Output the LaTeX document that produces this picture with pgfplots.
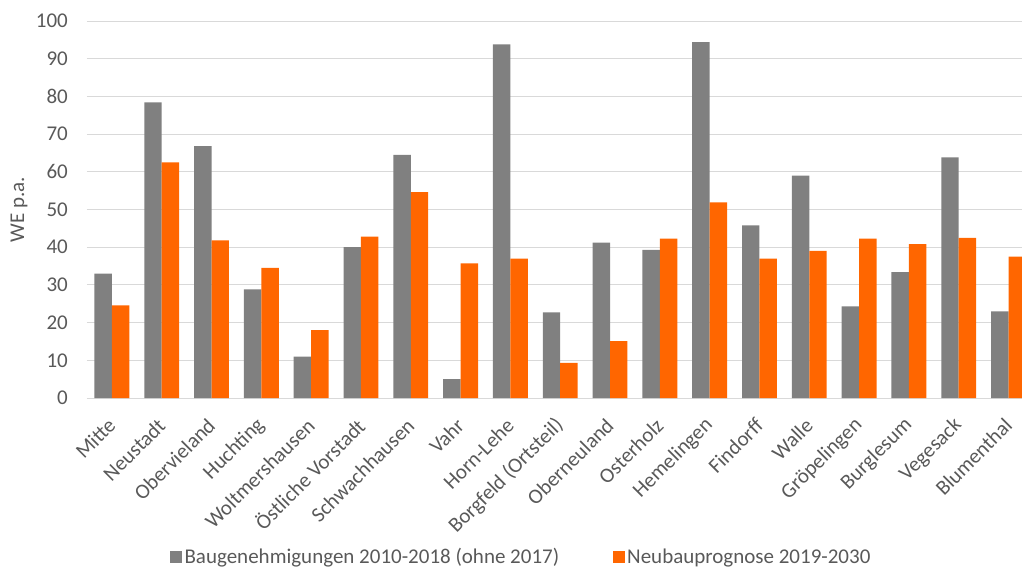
\documentclass[border=0pt]{standalone}
\usepackage{pgfplots}
\pgfplotsset{compat=1.18}
\usepackage{fontspec}
\setmainfont{Carlito}
\definecolor{bgray}{HTML}{808080}
\definecolor{borange}{HTML}{FF6600}
\definecolor{gridc}{HTML}{D9D9D9}
\definecolor{txt}{HTML}{595959}
\newcommand{\cf}{\fontsize{21}{25}\selectfont}
\begin{document}
\begin{tikzpicture}
\begin{axis}[
  at={(0,0)}, anchor=south west,
  scale only axis, width=935pt, height=377pt,
  xmin=-0.5, xmax=18.27, ymin=0, ymax=100,
  enlargelimits=false,
  ybar=0pt, bar width=0.35,
  xtick={0,...,18},
  xticklabels={Mitte,Neustadt,Obervieland,Huchting,Woltmershausen,Östliche Vorstadt,Schwachhausen,Vahr,Horn-Lehe,Borgfeld (Ortsteil),Oberneuland,Osterholz,Hemelingen,Findorff,Walle,Gröpelingen,Burglesum,Vegesack,Blumenthal},
  ytick={0,10,...,100},
  ymajorgrids, grid style={gridc, line width=0.9pt},
  axis line style={draw=none},
  major tick length=0pt,
  tick style={draw=none},
  /pgf/number format/assume math mode=true,
  tick label style={font=\cf, text=txt},
  yticklabel style={anchor=east, inner sep=0pt, xshift=-19pt},
  xticklabel style={rotate=45, anchor=east, inner sep=0pt},
  xticklabel shift=24pt,
  ylabel={WE p.a.},
  every axis y label/.style={at={(axis description cs:-0.0727,0.5)}, rotate=90, anchor=center, font=\cf, text=txt},
  legend style={at={(axis description cs:0.4647,-0.4218)}, anchor=center, draw=none, fill=none,
    legend columns=2, font=\cf, text=txt,
    /tikz/every even column/.append style={column sep=51pt},
    inner sep=0pt, nodes={inner xsep=2.5pt, inner ysep=0pt}},
  legend cell align=left,
]
\addplot[fill=bgray, draw=none, legend image code/.code={\fill[bgray] (0pt,-6pt) rectangle (12pt,6pt);}] coordinates {
(0,33.0) (1,78.4) (2,66.8) (3,28.8) (4,11.0) (5,40.0) (6,64.5) (7,5.0) (8,93.8) (9,22.7)
(10,41.2) (11,39.3) (12,94.4) (13,45.8) (14,59.0) (15,24.3) (16,33.4) (17,63.8) (18,23.0)};
\addplot[fill=borange, draw=none, legend image code/.code={\fill[borange] (0pt,-6pt) rectangle (12pt,6pt);}] coordinates {
(0,24.6) (1,62.5) (2,41.8) (3,34.5) (4,18.0) (5,42.8) (6,54.6) (7,35.7) (8,37.0) (9,9.3)
(10,15.1) (11,42.3) (12,51.9) (13,37.0) (14,39.0) (15,42.3) (16,40.8) (17,42.5) (18,37.5)};
\legend{Baugenehmigungen 2010-2018 (ohne 2017), Neubauprognose 2019-2030}
\end{axis}
\pgfresetboundingbox
\path[use as bounding box] (-87pt,-170pt) rectangle (935pt,398pt);
\end{tikzpicture}
\end{document}
